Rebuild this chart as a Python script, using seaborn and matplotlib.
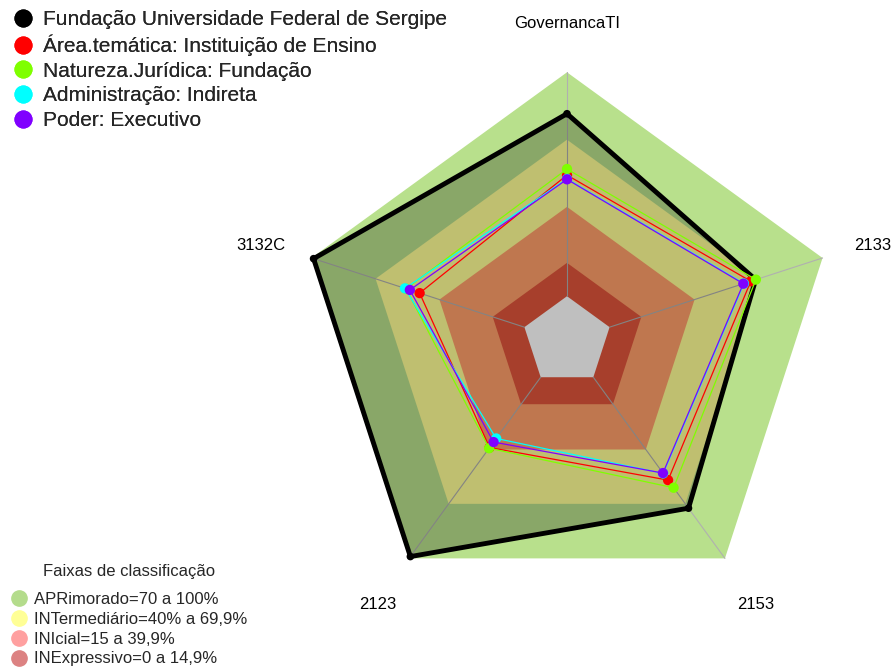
import numpy as np
import pandas as pd
import matplotlib.pyplot as plt
from matplotlib.lines import Line2D
import seaborn as sns

# Radar axes (clockwise from the top)
axis_labels = ["GovernancaTI", "2133", "2153", "2123", "3132C"]

# Series values (share of the maximum, 0..1)
series_names = [
    "Fundação Universidade Federal de Sergipe",
    "Área.temática: Instituição de Ensino",
    "Natureza.Jurídica: Fundação",
    "Administração: Indireta",
    "Poder: Executivo",
]
ufs = [0.815, 0.686, 0.723, 0.99, 0.99]
area_tematica = [0.541, 0.663, 0.568, 0.388, 0.492]
natureza_juridica = [0.568, 0.687, 0.610, 0.392, 0.556]
administracao = [0.524, 0.631, 0.531, 0.338, 0.561]
poder = [0.522, 0.628, 0.529, 0.358, 0.538]
series_colors = ["#000000", "#FF0000", "#7FFF00", "#00FFFF", "#8000FF"]

# Classification bands
band_title = "Faixas de classificação"
band_names = [
    "APRimorado=70 a 100%",
    "INTermediário=40% a 69,9%",
    "INIcial=15 a 39,9%",
    "INExpressivo=0 a 14,9%",
]
band_limits = [1.0, 0.699, 0.399, 0.149]
band_colors = ["#B8E08C", "#FFFF96", "#FFA06A", "#E0553B"]
band_legend_colors = ["#B4DC8C", "#FFFF96", "#FFA0A0", "#DC8282"]

N_SEG = 5


def to_xy(values):
    """Map radar values to cartesian points (fmsb style, hole in the centre)."""
    ang = np.deg2rad(90 - 72 * np.arange(len(axis_labels)))
    r = (1 + N_SEG * np.asarray(values)) / (N_SEG + 1)
    return r * np.cos(ang), r * np.sin(ang)


def main():
    sns.set_theme(style="white")
    plt.rcParams["font.family"] = ["Liberation Sans", "DejaVu Sans"]

    fig = plt.figure(figsize=(8.94, 6.68), dpi=100)
    ax = fig.add_axes([0, 0, 1, 1])
    R = 268.7
    ax.set_xlim(-567 / R, (894 - 567) / R)
    ax.set_ylim((341 - 668) / R, 341 / R)
    ax.set_axis_off()

    # bands
    for lim, col in zip(band_limits, band_colors):
        bx, by = to_xy([lim] * 5)
        ax.fill(bx, by, color=col, lw=0, zorder=1)
    cx, cy = to_xy([0] * 5)
    ax.fill(cx, cy, color="white", lw=0, zorder=1)

    # spokes
    ox, oy = to_xy([1] * 5)
    for i in range(5):
        ax.plot([cx[i], ox[i]], [cy[i], oy[i]], color="#B0B0B0", lw=0.8, zorder=2)

    # series
    all_series = [ufs, area_tematica, natureza_juridica, administracao, poder]
    rows = []
    for name, vals in zip(series_names, all_series):
        x, y = to_xy(vals)
        for i in range(6):
            rows.append({"serie": name, "x": x[i % 5], "y": y[i % 5], "ordem": i})
    df = pd.DataFrame(rows)

    for k, (name, col) in enumerate(zip(series_names, series_colors)):
        d = df[df["serie"] == name]
        if k == 0:
            ax.fill(d["x"], d["y"], color="black", alpha=0.25, lw=0, zorder=3)
            lw, s = 3.5, 30
        else:
            lw, s = 0.9, 55
        sns.lineplot(data=d, x="x", y="y", sort=False, estimator=None, color=col,
                     lw=lw, ax=ax, zorder=4 + k, legend=False)
        sns.scatterplot(data=d.iloc[:5], x="x", y="y", color=col, s=s,
                        edgecolor="none", ax=ax, zorder=4 + k, legend=False)

    # axis labels
    lx, ly = to_xy([1.236] * 5)
    for i, lab in enumerate(axis_labels):
        ax.annotate(lab, (lx[i], ly[i]), xytext=(0, -2.6), textcoords="offset points",
                    ha="center", va="center", fontsize=12, color="black")

    ax.set_xlabel("")
    ax.set_ylabel("")

    # legends
    h1 = [Line2D([], [], marker="o", ls="", color=c, markersize=12) for c in series_colors]
    leg1 = fig.legend(h1, series_names, loc="upper left", bbox_to_anchor=(0.0, 1.004),
                      frameon=False, fontsize=15, handlelength=1.0, handletextpad=0.47,
                      labelspacing=0.27, borderaxespad=0.2)
    fig.add_artist(leg1)
    h2 = [Line2D([], [], marker="o", ls="", color=c, markersize=11) for c in band_legend_colors]
    fig.legend(h2, band_names, loc="lower left", bbox_to_anchor=(0.0, -0.0125),
               frameon=False, fontsize=12, handlelength=1.08, handletextpad=0.38,
               labelspacing=0.29, borderaxespad=0.2)
    fig.text(129 / 894, 1 - 571.7 / 668, band_title, ha="center", va="center", fontsize=12)

    fig.savefig("out.png", dpi=100)
    plt.close(fig)


if __name__ == "__main__":
    main()
